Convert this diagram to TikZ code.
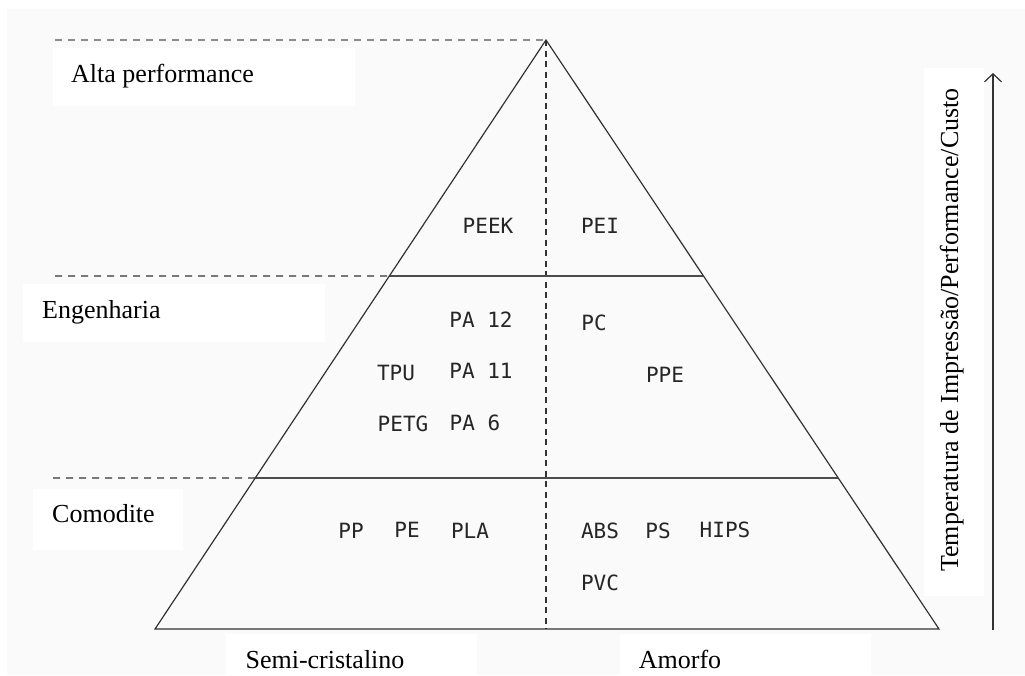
\documentclass[tikz,border=0pt]{standalone}
\usepackage{fontspec}
\setmainfont{Liberation Serif}
\newfontfamily\monolabel{DejaVu Sans Mono}
\usetikzlibrary{calc,arrows.meta}

\begin{document}
\begin{tikzpicture}[x=1pt,y=-1pt,
  edge/.style={draw=black!80, line width=1.2pt, line join=miter},
  tier/.style={draw=black!70, line width=1.4pt},
  guide/.style={draw=black!80, line width=1.1pt, dash pattern=on 7pt off 6pt},
  topguide/.style={guide, draw=black!45},
  material/.style={font=\monolabel\fontsize{21}{21}\selectfont, text=black!85, inner sep=0pt, anchor=center},
  tiername/.style={font=\fontsize{26}{30}\selectfont, text=black, inner sep=0pt, anchor=base west},
  labelbg/.style={fill=white, draw=none}]

% canvas
\useasboundingbox (0,0) rectangle (1025,675);
\fill[white] (0,0) rectangle (1025,675);
\fill[black!2] (7,9) rectangle (1025,675);

% white panels behind the tier names and axis captions
\fill[labelbg] (53,48) rectangle (355,106);
\fill[labelbg] (23,284) rectangle (325,342);
\fill[labelbg] (33,489) rectangle (183,550);
\fill[labelbg] (226,634) rectangle (477,675);
\fill[labelbg] (620,634) rectangle (871,675);
\fill[labelbg] (924,68) rectangle (984,596);

% pyramid corners and tier boundaries
\coordinate (apex) at (546,40);
\coordinate (bl) at (155,629);
\coordinate (br) at (939,629);
\coordinate (mid) at (546,629);
\coordinate (upL) at ($(apex)!0.4007!(bl)$);
\coordinate (upR) at ($(apex)!0.4007!(br)$);
\coordinate (loL) at ($(apex)!0.7436!(bl)$);
\coordinate (loR) at ($(apex)!0.7436!(br)$);
\coordinate (g0) at (55,40);
\coordinate (g1) at (55,276);
\coordinate (g2) at (53,478);

% dashed guides
\draw[topguide] (g0) -- (apex);
\draw[guide] (g1) -- (upL);
\draw[guide] (g2) -- (loL);
\draw[guide, dash pattern=on 6pt off 4.5pt] (apex) -- (mid);

% tiers and outline
\draw[tier] (upL) -- (upR);
\draw[tier] (loL) -- (loR);
\draw[edge] (bl) -- (apex) -- (br) -- cycle;

% tier names
\node[tiername] (alta) at (71,82) {Alta performance};
\node[tiername] (eng) at (42,318) {Engenharia};
\node[tiername] (com) at (52,522) {Comodite};
\node[tiername, anchor=base] (semi) at (325,668) {Semi-cristalino};
\node[tiername, anchor=base] (amorfo) at (680,668) {Amorfo};

% materials
\node[material] (peek) at (488,226) {PEEK};
\node[material] (pei) at (600,226) {PEI};
\node[material] (pa12) at (481,320) {PA 12};
\node[material] (pc) at (594,323) {PC};
\node[material] (tpu) at (396,373) {TPU};
\node[material] (pa11) at (481,371) {PA 11};
\node[material] (ppe) at (665,375) {PPE};
\node[material] (petg) at (403,424) {PETG};
\node[material] (pa6) at (475,423) {PA 6};
\node[material] (pp) at (351,531) {PP};
\node[material] (pe) at (407,530) {PE};
\node[material] (pla) at (470,531) {PLA};
\node[material] (abs) at (600,531) {ABS};
\node[material] (ps) at (658,531) {PS};
\node[material] (hips) at (725,530) {HIPS};
\node[material] (pvc) at (600,583) {PVC};

% vertical axis
\node[tiername, anchor=base, rotate=90] (axis) at (958,330) {Temperatura de Impressão/Performance/Custo};
\coordinate (axfoot) at (993,630);
\coordinate (axtip) at (993,73);
\draw[draw=black!80, line width=1.2pt, -{Straight Barb[length=8pt,width=17pt]}] (axfoot) -- (axtip);

\end{tikzpicture}
\end{document}
